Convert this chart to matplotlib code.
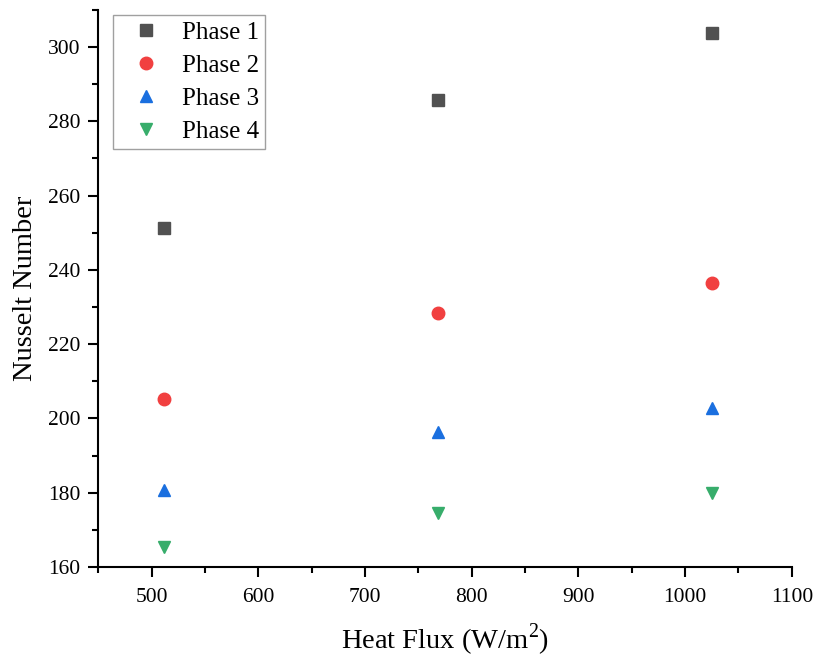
import matplotlib
matplotlib.use("Agg")
import matplotlib.pyplot as plt
from matplotlib.ticker import MultipleLocator

plt.rcParams['font.family'] = ['Liberation Serif', 'DejaVu Serif']
plt.rcParams['mathtext.fontset'] = 'custom'
plt.rcParams['mathtext.rm'] = 'Liberation Serif'

# data
heat_flux = [512, 768, 1025]
phase1 = [251.3, 285.7, 303.7]
phase2 = [205.3, 228.4, 236.5]
phase3 = [180.6, 196.3, 202.8]
phase4 = [165.3, 174.6, 180.0]

series = [
    ("Phase 1", phase1, "s", "#515151"),
    ("Phase 2", phase2, "o", "#F14040"),
    ("Phase 3", phase3, "^", "#1A6FDF"),
    ("Phase 4", phase4, "v", "#37AD6B"),
]

fig = plt.figure(figsize=(8.18, 6.6), dpi=100)
ax = fig.add_axes([0.120, 0.141, 0.848, 0.844])

for name, vals, mk, col in series:
    ax.plot(heat_flux, vals, linestyle="none", marker=mk, color=col,
            markersize=9, label=name)

ax.set_xlim(450, 1100)
ax.set_ylim(160, 310)
ax.xaxis.set_major_locator(MultipleLocator(100))
ax.xaxis.set_minor_locator(MultipleLocator(50))
ax.yaxis.set_major_locator(MultipleLocator(20))
ax.yaxis.set_minor_locator(MultipleLocator(10))

for s in ["top", "right"]:
    ax.spines[s].set_visible(False)
for s in ["left", "bottom"]:
    ax.spines[s].set_linewidth(1.5)

ax.tick_params(which="major", direction="out", length=7, width=1.5, labelsize=15.5)
ax.tick_params(axis="x", which="major", pad=8)
ax.tick_params(axis="y", which="major", pad=6)
ax.tick_params(which="minor", direction="out", length=4, width=1.5)

ax.set_xlabel("Heat Flux (W/m$^2$)", fontsize=20.5, labelpad=11)
ax.set_ylabel("Nusselt Number", fontsize=20.5, labelpad=7)

leg = ax.legend(loc="upper left", bbox_to_anchor=(0.0216, 0.991), fontsize=18,
                frameon=True, fancybox=False, handletextpad=0.4,
                labelspacing=0.42, borderpad=0.25, handlelength=2.1,
                borderaxespad=0)
leg.get_frame().set_edgecolor("#888888")
leg.get_frame().set_linewidth(1.0)

fig.savefig("out.png", dpi=100)
